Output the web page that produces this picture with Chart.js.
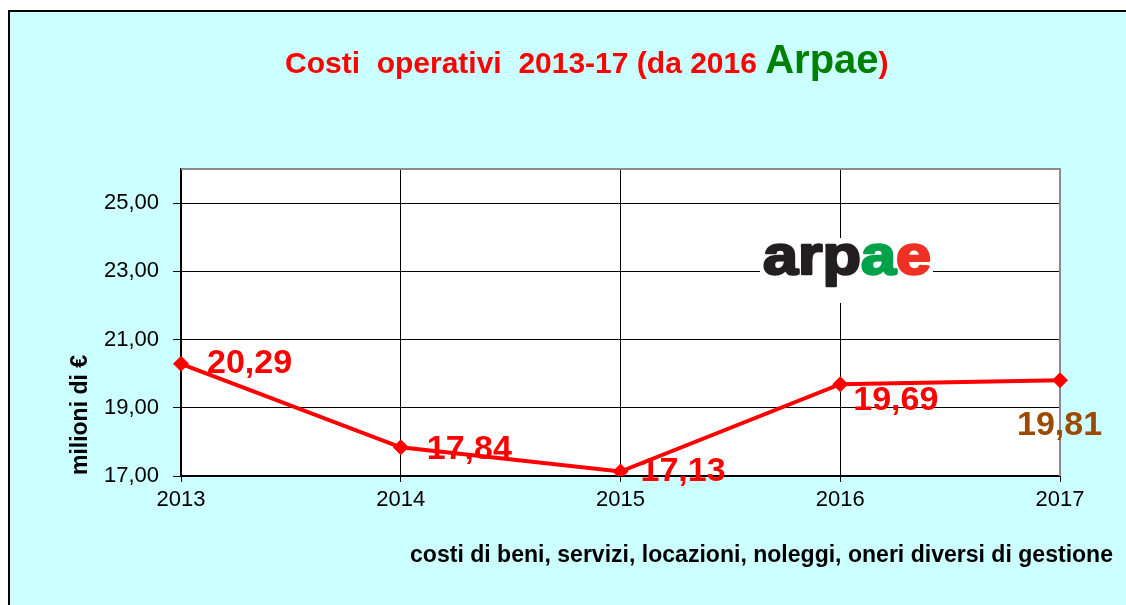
<!DOCTYPE html>
<html lang="it">
<head>
    <meta charset="UTF-8">
    <title>Costi operativi 2013-17</title>
    <script src="https://cdn.jsdelivr.net/npm/chart.js@4.4.0/dist/chart.umd.min.js"></script>
    <style>
        html, body { margin: 0; padding: 0; background: #fff; }
        .container { width: 1126px; height: 605px; }
    </style>
</head>
<body>
    <div class="container">
        <canvas id="myChart" width="1126" height="605"></canvas>
    </div>
<script>
// data
var years = ['2013', '2014', '2015', '2016', '2017'];
var costs = [20.29, 17.84, 17.13, 19.69, 19.81];
var yTicks = [17, 19, 21, 23, 25];
var yMin = 17;
var yMax = 26;

// label placement next to each point (dx, dy) and colour
var labelOffsets = [[26, 0], [26, 2], [20, 0], [13, 16], [-43, 45]];
var labelColors = ['#ff0000', '#ff0000', '#ff0000', '#ff0000', '#9c4a00'];

var FONT = '"Liberation Sans", Arial, sans-serif';

function fmt(v) {
    return v.toFixed(2).replace('.', ',');
}

// draw text squeezed/stretched to a given width
function fitText(ctx, text, x, y, width) {
    var w = ctx.measureText(text).width;
    ctx.save();
    ctx.translate(x, y);
    ctx.scale(width / w, 1);
    ctx.fillText(text, 0, 0);
    ctx.restore();
}

var backdrop = {
    id: 'backdrop',
    beforeDraw: function (chart) {
        var ctx = chart.ctx;
        var a = chart.chartArea;
        ctx.save();
        ctx.fillStyle = '#fff';
        ctx.fillRect(0, 0, chart.width, chart.height);
        ctx.fillStyle = '#ccffff';
        ctx.fillRect(8, 10, chart.width - 8, chart.height - 10);
        ctx.strokeStyle = '#000';
        ctx.lineWidth = 2;
        ctx.beginPath();
        ctx.moveTo(9, chart.height);
        ctx.lineTo(9, 11);
        ctx.lineTo(chart.width, 11);
        ctx.stroke();
        ctx.fillStyle = '#fff';
        ctx.fillRect(a.left, a.top, a.right - a.left, a.bottom - a.top);

        // title
        ctx.textBaseline = 'alphabetic';
        ctx.textAlign = 'left';
        var red = 'Costi  operativi  2013-17 (da 2016 ';
        ctx.font = 'bold 30px ' + FONT;
        ctx.fillStyle = '#ff0000';
        var x = 285;
        ctx.fillText(red, x, 73);
        x += ctx.measureText(red).width;
        ctx.font = 'bold 40px ' + FONT;
        ctx.fillStyle = '#008000';
        ctx.fillText('Arpae', x, 73);
        x += ctx.measureText('Arpae').width;
        ctx.font = 'bold 30px ' + FONT;
        ctx.fillStyle = '#ff0000';
        ctx.fillText(')', x, 73);

        // axis titles
        ctx.fillStyle = '#000';
        ctx.font = 'bold 23px ' + FONT;
        fitText(ctx, 'costi di beni, servizi, locazioni, noleggi, oneri diversi di gestione', 410, 562, 703);
        ctx.save();
        ctx.translate(81, 475);
        ctx.rotate(-Math.PI / 2);
        ctx.textBaseline = 'middle';
        fitText(ctx, 'milioni di €', 0, 0, 120);
        ctx.restore();
        ctx.restore();
    },
    beforeDatasetsDraw: function (chart) {
        var ctx = chart.ctx;
        var a = chart.chartArea;
        ctx.save();
        // gray frame top/right
        ctx.strokeStyle = '#8c8c8c';
        ctx.lineWidth = 2;
        ctx.beginPath();
        ctx.moveTo(a.left, a.top);
        ctx.lineTo(a.right, a.top);
        ctx.lineTo(a.right, a.bottom);
        ctx.stroke();

        // logo
        ctx.fillStyle = '#fff';
        ctx.fillRect(760, 238, 173, 65);
        ctx.font = 'bold 56px ' + FONT;
        ctx.textBaseline = 'alphabetic';
        ctx.lineWidth = 2.5;
        ctx.lineJoin = 'round';
        var parts = [['arp', '#231f20'], ['a', '#00a14b'], ['e', '#ee3124']];
        var total = 0;
        parts.forEach(function (p) { total += ctx.measureText(p[0]).width; });
        var sx = 168 / total;
        var x = 763;
        parts.forEach(function (p) {
            ctx.fillStyle = p[1];
            ctx.strokeStyle = p[1];
            var w = ctx.measureText(p[0]).width;
            ctx.save();
            ctx.translate(x, 274);
            ctx.scale(sx, 1);
            ctx.fillText(p[0], 0, 0);
            ctx.strokeText(p[0], 0, 0);
            ctx.restore();
            x += w * sx;
        });
        ctx.restore();
    },
    afterDatasetsDraw: function (chart) {
        var ctx = chart.ctx;
        var meta = chart.getDatasetMeta(0);
        ctx.save();
        ctx.font = 'bold 34px ' + FONT;
        ctx.textAlign = 'left';
        ctx.textBaseline = 'middle';
        meta.data.forEach(function (pt, i) {
            ctx.fillStyle = labelColors[i];
            ctx.fillText(fmt(costs[i]), pt.x + labelOffsets[i][0], pt.y + labelOffsets[i][1]);
        });
        ctx.restore();
    }
};

var ctx = document.getElementById('myChart');
var myChart = new Chart(ctx, {
    type: 'line',
    data: {
        labels: years,
        datasets: [{
            data: costs,
            borderColor: '#ff0000',
            backgroundColor: '#ff0000',
            borderWidth: 4,
            pointStyle: 'rectRot',
            pointRadius: 8,
            pointBorderWidth: 0,
            tension: 0
        }]
    },
    options: {
        responsive: false,
        animation: false,
        layout: { padding: { left: 0, top: 169, right: 66, bottom: 0 } },
        plugins: {
            legend: { display: false },
            tooltip: { enabled: false }
        },
        scales: {
            x: {
                type: 'category',
                offset: false,
                grid: { color: '#000', lineWidth: 1, tickLength: 6 },
                border: { color: '#000', width: 2 },
                ticks: {
                    color: '#000',
                    font: { family: FONT, size: 22 },
                    padding: 5,
                    maxRotation: 0
                },
                afterFit: function (scale) { scale.height = 129; }
            },
            y: {
                min: yMin,
                max: yMax,
                grid: { color: '#000', lineWidth: 1, tickLength: 8 },
                border: { color: '#000', width: 2 },
                ticks: {
                    color: '#000',
                    font: { family: FONT, size: 22 },
                    padding: 14,
                    callback: function (v) { return fmt(v); }
                },
                afterBuildTicks: function (scale) {
                    scale.ticks = yTicks.map(function (v) { return { value: v }; });
                },
                afterFit: function (scale) { scale.width = 181; }
            }
        }
    },
    plugins: [backdrop]
});
</script>
</body>
</html>
